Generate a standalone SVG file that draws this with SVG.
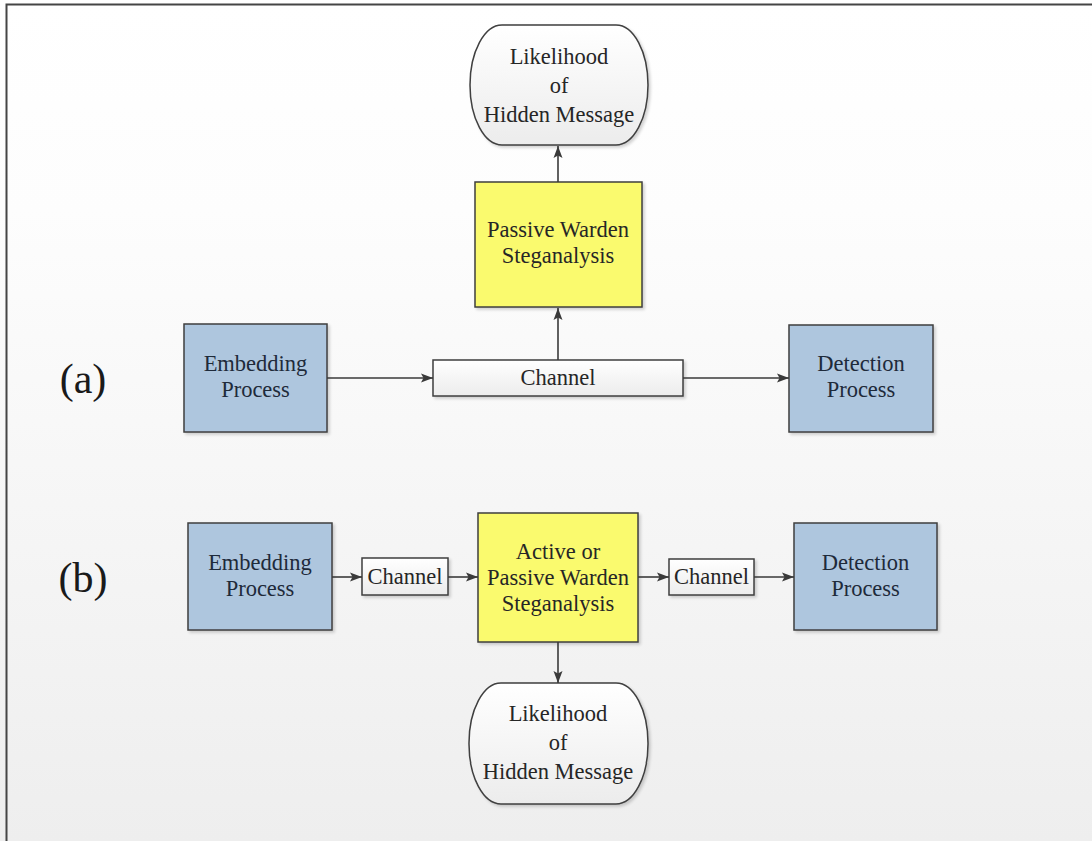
<svg xmlns="http://www.w3.org/2000/svg" width="1092" height="841" viewBox="0 0 1092 841">
  <defs>
    <linearGradient id="bg" x1="0" y1="0" x2="0" y2="1">
      <stop offset="0" stop-color="#ffffff"/>
      <stop offset="0.25" stop-color="#fdfdfd"/>
      <stop offset="1" stop-color="#eeeeee"/>
    </linearGradient>
    <linearGradient id="soft" x1="0" y1="0" x2="0" y2="1">
      <stop offset="0" stop-color="#ffffff"/>
      <stop offset="1" stop-color="#ececec"/>
    </linearGradient>
    <marker id="arrow" viewBox="0 0 12 10" refX="12" refY="5" markerWidth="12" markerHeight="10" markerUnits="userSpaceOnUse" orient="auto">
      <path d="M0,0.5 L12,5 L0,9.5 L2.5,5 Z" fill="#3a3a3a"/>
    </marker>
    <filter id="shadow" x="-10%" y="-10%" width="130%" height="130%">
      <feGaussianBlur in="SourceAlpha" stdDeviation="1.5"/>
      <feOffset dx="2" dy="2" result="b"/>
      <feComponentTransfer><feFuncA type="linear" slope="0.18"/></feComponentTransfer>
      <feMerge><feMergeNode/><feMergeNode in="SourceGraphic"/></feMerge>
    </filter>
  </defs>
  <style>
    .proc { fill: #aec6de; stroke: #3f3f3f; stroke-width: 1.5; filter: url(#shadow); }
    .warden { fill: #fafa6e; stroke: #3f3f3f; stroke-width: 1.5; filter: url(#shadow); }
    .chan { fill: url(#soft); stroke: #3f3f3f; stroke-width: 1.5; filter: url(#shadow); }
    .term { fill: url(#soft); stroke: #3f3f3f; stroke-width: 1.5; filter: url(#shadow); }
    .lbl { font-family: "Liberation Serif", "Times New Roman", serif; font-size: 22.5px; fill: #262626; text-anchor: middle; }
    .lbl.blue { fill: #1e2a3a; }
    .tag { font-family: "Liberation Serif", "Times New Roman", serif; font-size: 42px; fill: #1a1a1a; text-anchor: middle; }
    .edge { stroke: #3a3a3a; stroke-width: 1.6; fill: none; marker-end: url(#arrow); }
  </style>

  <!-- page background and frame -->
  <rect x="0" y="0" width="1092" height="841" fill="url(#bg)"/>
  <path d="M6.5,841 V4.5 H1092" fill="none" stroke="#454545" stroke-width="2"/>

  <!-- panel labels -->
  <text class="tag" x="83" y="393">(a)</text>
  <text class="tag" x="83" y="592">(b)</text>

  <!-- (a) nodes -->
  <g id="a-likelihood">
    <rect class="term" x="470" y="25" width="178" height="120" rx="32" ry="60"/>
    <text class="lbl" x="559" y="64">Likelihood</text>
    <text class="lbl" x="559" y="93">of</text>
    <text class="lbl" x="559" y="122">Hidden Message</text>
  </g>
  <g id="a-warden">
    <rect class="warden" x="475" y="182" width="167" height="125"/>
    <text class="lbl" x="558" y="237">Passive Warden</text>
    <text class="lbl" x="558" y="263">Steganalysis</text>
  </g>
  <g id="a-embedding">
    <rect class="proc" x="184" y="324" width="143" height="108"/>
    <text class="lbl blue" x="255.5" y="371">Embedding</text>
    <text class="lbl blue" x="255.5" y="397">Process</text>
  </g>
  <g id="a-channel">
    <rect class="chan" x="433" y="360" width="250" height="36"/>
    <text class="lbl" x="558" y="385">Channel</text>
  </g>
  <g id="a-detection">
    <rect class="proc" x="789" y="325" width="144" height="107"/>
    <text class="lbl blue" x="861" y="371">Detection</text>
    <text class="lbl blue" x="861" y="397">Process</text>
  </g>

  <!-- (b) nodes -->
  <g id="b-embedding">
    <rect class="proc" x="188" y="523" width="144" height="107"/>
    <text class="lbl blue" x="260" y="570">Embedding</text>
    <text class="lbl blue" x="260" y="596">Process</text>
  </g>
  <g id="b-channel-1">
    <rect class="chan" x="362" y="558" width="86" height="37"/>
    <text class="lbl" x="405" y="584">Channel</text>
  </g>
  <g id="b-warden">
    <rect class="warden" x="478" y="513" width="160" height="129"/>
    <text class="lbl" x="558" y="559">Active or</text>
    <text class="lbl" x="558" y="585">Passive Warden</text>
    <text class="lbl" x="558" y="611">Steganalysis</text>
  </g>
  <g id="b-channel-2">
    <rect class="chan" x="669" y="559" width="85" height="36"/>
    <text class="lbl" x="711.5" y="584">Channel</text>
  </g>
  <g id="b-detection">
    <rect class="proc" x="794" y="523" width="143" height="107"/>
    <text class="lbl blue" x="865.5" y="570">Detection</text>
    <text class="lbl blue" x="865.5" y="596">Process</text>
  </g>
  <g id="b-likelihood">
    <rect class="term" x="469" y="683" width="179" height="121" rx="32" ry="60"/>
    <text class="lbl" x="558" y="721">Likelihood</text>
    <text class="lbl" x="558" y="750">of</text>
    <text class="lbl" x="558" y="779">Hidden Message</text>
  </g>

  <!-- connectors -->
  <g id="connectors">
    <path class="edge" d="M558,182 V146"/>
    <path class="edge" d="M558,360 V308"/>
    <path class="edge" d="M327,378 H433"/>
    <path class="edge" d="M683,378 H789"/>
    <path class="edge" d="M332,577 H362"/>
    <path class="edge" d="M448,577 H478"/>
    <path class="edge" d="M638,577 H669"/>
    <path class="edge" d="M754,577 H794"/>
    <path class="edge" d="M558,642 V683"/>
  </g>
</svg>
